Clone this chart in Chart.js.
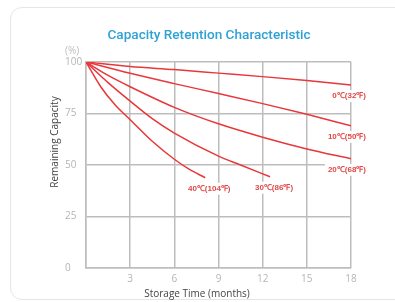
<!DOCTYPE html>
<html>
<head>
<meta charset="utf-8">
<script src="https://cdn.jsdelivr.net/npm/chart.js@4"></script>
<style>
    html, body { margin: 0; padding: 0; background: #fff; }
    body { width: 395px; height: 302px; position: relative; overflow: hidden; }
    .card {
        position: absolute; left: 10px; top: 7px; width: 420px; height: 293px;
        border: 1px solid #e6e6e6; border-radius: 12px; box-sizing: border-box;
    }
    #wrap { position: absolute; left: 0; top: 0; width: 395px; height: 302px; }
</style>
</head>
<body>
<div class="card"></div>
<div id="wrap"><canvas id="retentionChart" width="395" height="302"></canvas></div>
<script>
// storage time (months) and remaining capacity (%) for each temperature
const months0 = [0, 3, 6, 9, 12, 15, 18];
const cap0 = [100, 97.8, 96.3, 94.6, 92.9, 91, 88.8];

const months10 = [0, 3, 6, 9, 12, 15, 18];
const cap10 = [100, 94.5, 89.5, 84.7, 79.8, 74.6, 69];

const months20 = [0, 1.5, 3, 6, 9, 12, 15, 18];
const cap20 = [100, 93.5, 88, 78, 70, 63.5, 57.8, 53];

const months30 = [0, 1.5, 3, 4.5, 6, 9, 10.5, 12.5];
const cap30 = [100, 90, 81, 72.5, 65.5, 54.3, 50, 44.3];

const months40 = [0, 1, 2, 3, 4.5, 6, 7, 8.1];
const cap40 = [100, 88, 79, 72, 61.5, 52.8, 48, 43.8];

const seriesLabels = ['0℃(32℉)', '10℃(50℉)', '20℃(68℉)', '30℃(86℉)', '40℃(104℉)'];
const monthTicks = [0, 3, 6, 9, 12, 15, 18];
const capTicks = [0, 25, 50, 75, 100];

const RED = '#e8373a';
const GRID = '#bdbdbd';

function toPoints(xs, ys) {
    return xs.map((x, i) => ({ x: x, y: ys[i] }));
}

const allSeries = [
    toPoints(months0, cap0),
    toPoints(months10, cap10),
    toPoints(months20, cap20),
    toPoints(months30, cap30),
    toPoints(months40, cap40),
];

// text drawn around the plot: title, axis names, unit and curve labels
const textPlugin = {
    id: 'chartText',
    afterDatasetsDraw(chart) {
        const ctx = chart.ctx;
        ctx.save();

        ctx.fillStyle = '#2ea2d4';
        ctx.font = '500 13.6px Roboto';
        ctx.textAlign = 'center';
        ctx.textBaseline = 'middle';
        ctx.fillText('Capacity Retention Characteristic', 209, 36);

        ctx.fillStyle = '#bdbdbd';
        ctx.font = '10px "Open Sans"';
        ctx.textAlign = 'left';
        ctx.fillText('(%)', 65, 51);

        ctx.fillStyle = '#444';
        ctx.font = '10px "Open Sans"';
        ctx.textAlign = 'center';
        ctx.fillText('Storage Time (months)', 197, 294);

        ctx.save();
        ctx.translate(55, 142);
        ctx.rotate(-Math.PI / 2);
        ctx.fillText('Remaining Capacity', 0, 0);
        ctx.restore();

        ctx.font = 'bold 8px "Liberation Sans"';
        chart.data.datasets.forEach((ds, i) => {
            const pts = chart.getDatasetMeta(i).data;
            const last = pts[pts.length - 1];
            const w = ctx.measureText(seriesLabels[i]).width;
            const cx = Math.min(last.x + 4, chart.chartArea.right + 15 - w / 2);
            const cy = last.y + 11;
            ctx.fillStyle = '#fff';
            ctx.fillRect(cx - w / 2 - 3, cy - 6, w + 6, 12);
            ctx.fillStyle = '#e04848';
            ctx.textAlign = 'center';
            ctx.fillText(seriesLabels[i], cx, cy);
        });
        ctx.restore();
    }
};

const ctxRet = document.getElementById('retentionChart').getContext('2d');

const retentionChart = new Chart(ctxRet, {
    type: 'line',
    data: {
        datasets: allSeries.map((pts, i) => ({
            label: seriesLabels[i],
            data: pts,
            borderColor: RED,
            borderWidth: 1.5,
            pointRadius: 0,
            fill: false,
            cubicInterpolationMode: 'monotone',
        })),
    },
    options: {
        responsive: false,
        animation: false,
        layout: { padding: { left: 65, top: 62, right: 44, bottom: 0 } },
        plugins: {
            legend: { display: false },
            title: { display: false },
            tooltip: { enabled: false },
        },
        scales: {
            x: {
                type: 'linear',
                min: 0,
                max: 18,
                afterFit(scale) { scale.height = 34; },
                afterBuildTicks(scale) { scale.ticks = monthTicks.map(v => ({ value: v })); },
                grid: { color: GRID, lineWidth: 1.5, drawTicks: false },
                border: { color: GRID, width: 1.5 },
                ticks: {
                    padding: 5,
                    color: '#b5b5b5',
                    font: { family: 'Open Sans', size: 10 },
                    callback: v => (v === 0 ? '' : v),
                },
            },
            y: {
                min: 0,
                max: 100,
                afterFit(scale) { scale.width = 21; },
                afterBuildTicks(scale) { scale.ticks = capTicks.map(v => ({ value: v })); },
                grid: { color: GRID, lineWidth: 1.5, drawTicks: false },
                border: { color: GRID, width: 1.5 },
                ticks: {
                    padding: 3,
                    crossAlign: 'far',
                    color: '#b5b5b5',
                    font: { family: 'Open Sans', size: 10 },
                },
            },
        },
    },
    plugins: [textPlugin],
});
</script>
</body>
</html>
